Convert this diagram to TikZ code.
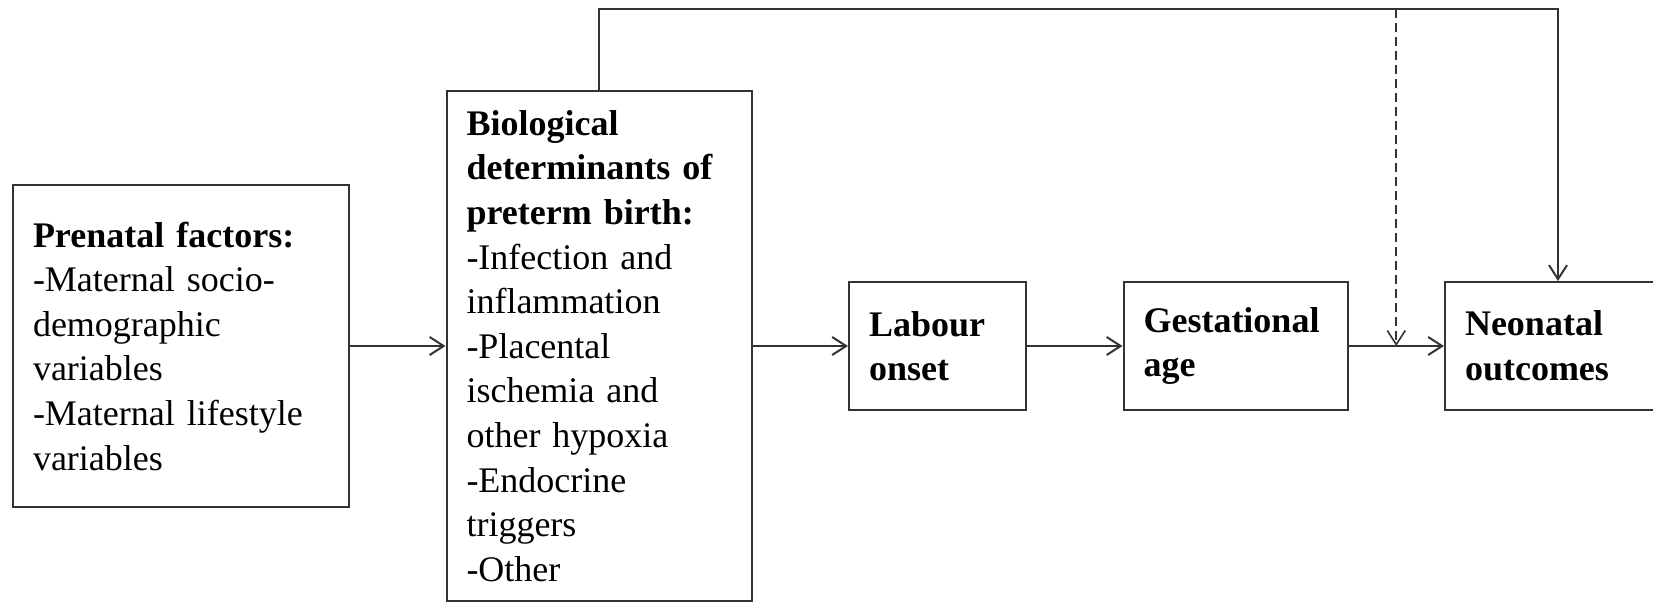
\documentclass[tikz,border=0pt]{standalone}
\usepackage{fontspec}
\setmainfont{Liberation Serif}
\usetikzlibrary{
    arrows.meta,
    calc,
    positioning
}

\begin{document}
\begin{tikzpicture}[
    node distance=47.75pt,
    box/.style={draw=black!80, line width=1pt, anchor=west, align=left,
        inner xsep=10pt, inner ysep=0pt,
        font=\fontsize{18pt}{22.3pt}\selectfont},
    link/.style={draw=black!80, line width=1pt,
        -{Straight Barb[length=7pt,width=9pt]}},
    maybe/.style={link, line width=0.8pt, dash pattern=on 4.5pt off 2.5pt},
  ]
    \useasboundingbox (0,0) rectangle (826.5pt,301pt);
    \coordinate (top) at (0,296.5pt);

    % boxes, left to right
    \node[box, text width=148pt, minimum height=161pt] (prenatal) at (6pt,128pt)
        {\textbf{Prenatal factors:}\\-Maternal socio-\\demographic\\variables\\-Maternal lifestyle\\variables};
    \node[box, text width=132.5pt, minimum height=255pt, right=of prenatal] (biology)
        {\textbf{Biological}\\\textbf{determinants of}\\\textbf{preterm birth:}\\-Infection and\\inflammation\\-Placental\\ischemia and\\other hypoxia\\-Endocrine\\triggers\\-Other};
    \node[box, text width=68.5pt, minimum height=64pt, right=of biology] (labour)
        {\textbf{Labour}\\\textbf{onset}};
    \node[box, text width=92pt, minimum height=64pt, right=of labour] (gestage)
        {\textbf{Gestational}\\\textbf{age}};
    \node[box, text width=93pt, minimum height=64pt, right=of gestage] (neonatal)
        {\textbf{Neonatal}\\\textbf{outcomes}};

    \coordinate (modifier) at ($(gestage.east)!0.5!(neonatal.west)$);

    % connectors
    \draw[link] (prenatal) -- (biology);
    \draw[link] (biology) -- (labour);
    \draw[link] (labour) -- (gestage);
    \draw[link] (gestage) -- (neonatal);
    \draw[link] (biology.north) -- (biology.north |- top) -| (neonatal.north);
    \draw[maybe] (modifier |- top) -- (modifier);
\end{tikzpicture}
\end{document}
